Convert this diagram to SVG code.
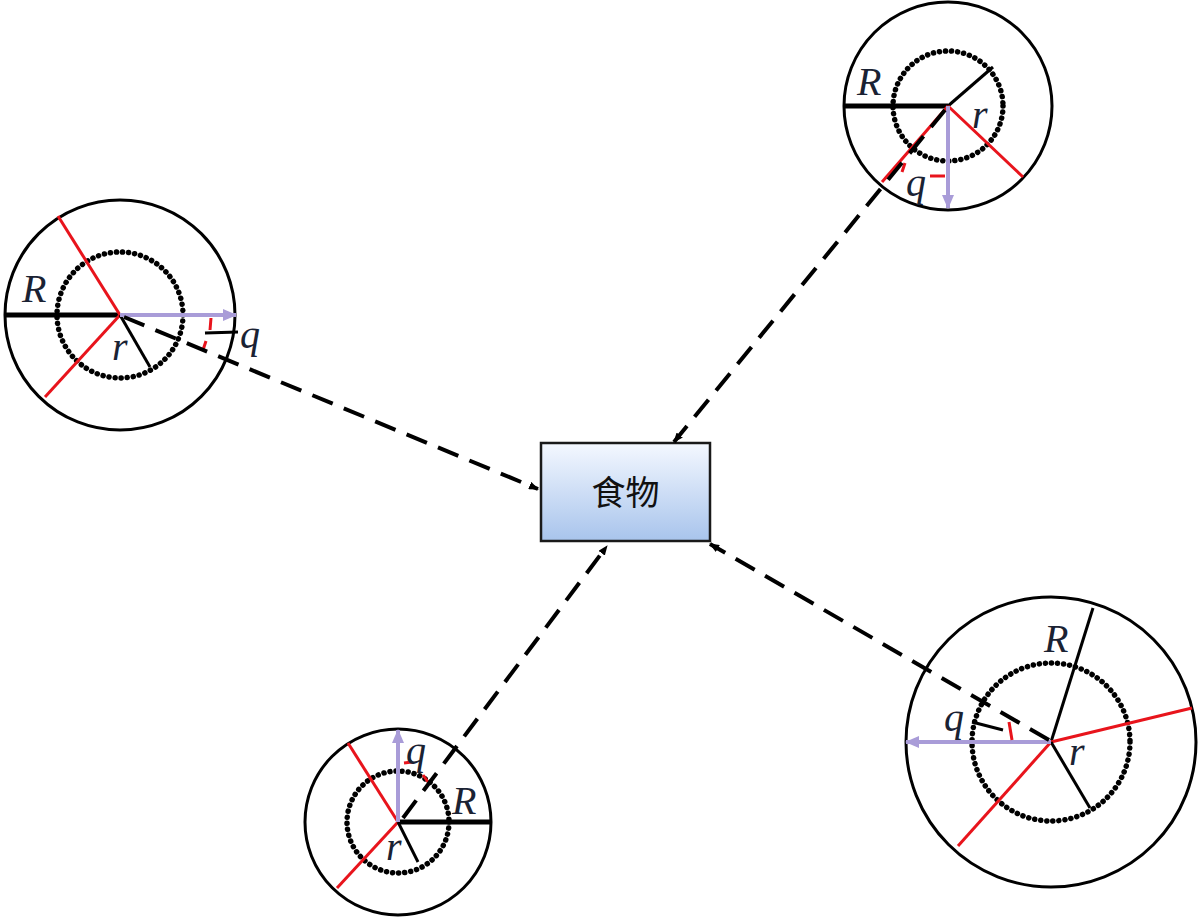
<svg xmlns="http://www.w3.org/2000/svg" width="1200" height="917" viewBox="0 0 1200 917">
<style>
.outer{fill:none;stroke:#000;stroke-width:3}
.inner{fill:none;stroke:#000;stroke-width:5.5;stroke-dasharray:0.1 6;stroke-linecap:round}
.blk{stroke:#000;stroke-width:3}
.thk{stroke:#000;stroke-width:5}
.red{stroke:#e8141c;stroke-width:3}
.pur{stroke:#a99cd8;stroke-width:4}
.arc{fill:none;stroke:#e8141c;stroke-width:3}
.lab{font-family:"Liberation Serif","Times New Roman",serif;font-style:italic;font-size:40px;fill:#1a2233}
.con{fill:none;stroke:#000;stroke-width:4;stroke-dasharray:22 12}
</style>
<defs>
<marker id="ah" markerWidth="10" markerHeight="8" refX="9" refY="4" orient="auto" markerUnits="userSpaceOnUse" viewBox="0 0 10 8"><path d="M0,0 L10,4 L0,8 z" fill="#000"/></marker>
<marker id="pa" markerWidth="14" markerHeight="12" refX="13" refY="6" orient="auto" markerUnits="userSpaceOnUse" viewBox="0 0 14 12"><path d="M0,0 L14,6 L0,12 z" fill="#a99cd8"/></marker>
<linearGradient id="bg" x1="0" y1="0" x2="0" y2="1"><stop offset="0" stop-color="#f4f8ff"/><stop offset="1" stop-color="#a8c4ec"/></linearGradient>
</defs>
<rect width="1200" height="917" fill="#fff"/>

<g id="food">
<rect x="541" y="443" width="169" height="98" fill="url(#bg)" stroke="#1a1a1a" stroke-width="2.5"/>
<text x="625.5" y="505" text-anchor="middle" font-family="'Noto Sans CJK SC',sans-serif" font-size="34" fill="#111">食物</text>
</g>

<g id="circle-top-right">
<circle class="outer" cx="948" cy="106" r="104"/>
<circle class="inner" cx="948" cy="106" r="55"/>
<line class="thk" x1="845" y1="106" x2="948" y2="106"/>
<line class="blk" x1="948" y1="106" x2="993" y2="67"/>
<line class="red" x1="948" y1="106" x2="1023" y2="177"/>
<line class="red" x1="948" y1="106" x2="882" y2="182"/>
<line class="pur" x1="948" y1="106" x2="948" y2="208" marker-end="url(#pa)"/>
<path class="arc" d="M905,163 L902,172 M930,176 L945,176"/>
<text class="lab" x="857" y="95">R</text>
<text class="lab" x="972" y="128">r</text>
<text class="lab" x="906" y="196">q</text>
</g>

<g id="circle-left">
<circle class="outer" cx="120" cy="315" r="115"/>
<circle class="inner" cx="120" cy="315" r="63"/>
<line class="thk" x1="4" y1="315" x2="120" y2="315"/>
<line class="red" x1="120" y1="315" x2="58" y2="216"/>
<line class="red" x1="120" y1="315" x2="45" y2="397"/>
<line class="blk" x1="120" y1="315" x2="150" y2="367"/>
<line class="pur" x1="120" y1="315" x2="236" y2="315" marker-end="url(#pa)"/>
<path class="arc" d="M211,318 L210,330 M206,341 L203,350"/>
<line class="blk" x1="205" y1="333" x2="238" y2="332"/>
<text class="lab" x="22" y="302">R</text>
<text class="lab" x="112" y="360">r</text>
<text class="lab" x="240" y="348">q</text>
</g>

<g id="circle-bottom-right">
<circle class="outer" cx="1051" cy="742" r="145"/>
<circle class="inner" cx="1051" cy="742" r="79"/>
<line class="blk" x1="1051" y1="742" x2="1093" y2="608"/>
<line class="red" x1="1051" y1="742" x2="1192" y2="708"/>
<line class="red" x1="1051" y1="742" x2="958" y2="846"/>
<line class="blk" x1="1051" y1="742" x2="1090" y2="808"/>
<line class="pur" x1="1051" y1="742" x2="906" y2="742" marker-end="url(#pa)"/>
<path class="arc" d="M1009,722 L1012,740"/>
<line class="blk" x1="972" y1="722" x2="1003" y2="730"/>
<text class="lab" x="1044" y="652">R</text>
<text class="lab" x="1069" y="765">r</text>
<text class="lab" x="944" y="731">q</text>
</g>

<g id="circle-bottom-left">
<circle class="outer" cx="398" cy="822" r="93"/>
<circle class="inner" cx="398" cy="822" r="51"/>
<line class="thk" x1="398" y1="822" x2="491" y2="822"/>
<line class="red" x1="398" y1="822" x2="348" y2="743"/>
<line class="red" x1="398" y1="822" x2="337" y2="888"/>
<line class="blk" x1="398" y1="822" x2="418" y2="862"/>
<line class="pur" x1="398" y1="822" x2="398" y2="730" marker-end="url(#pa)"/>
<path class="arc" d="M404,763 L412,762 M423,775 L428,782"/>
<text class="lab" x="452" y="814">R</text>
<text class="lab" x="386" y="860">r</text>
<text class="lab" x="406" y="764">q</text>
</g>

<g id="connectors">
<path class="con" d="M945,110 L674,442" marker-end="url(#ah)"/>
<path class="con" d="M124,317 L538,489" marker-end="url(#ah)"/>
<path class="con" d="M1049,740 L710,544" marker-end="url(#ah)"/>
<path class="con" d="M403,818 L607,546" marker-end="url(#ah)"/>
</g>
</svg>
